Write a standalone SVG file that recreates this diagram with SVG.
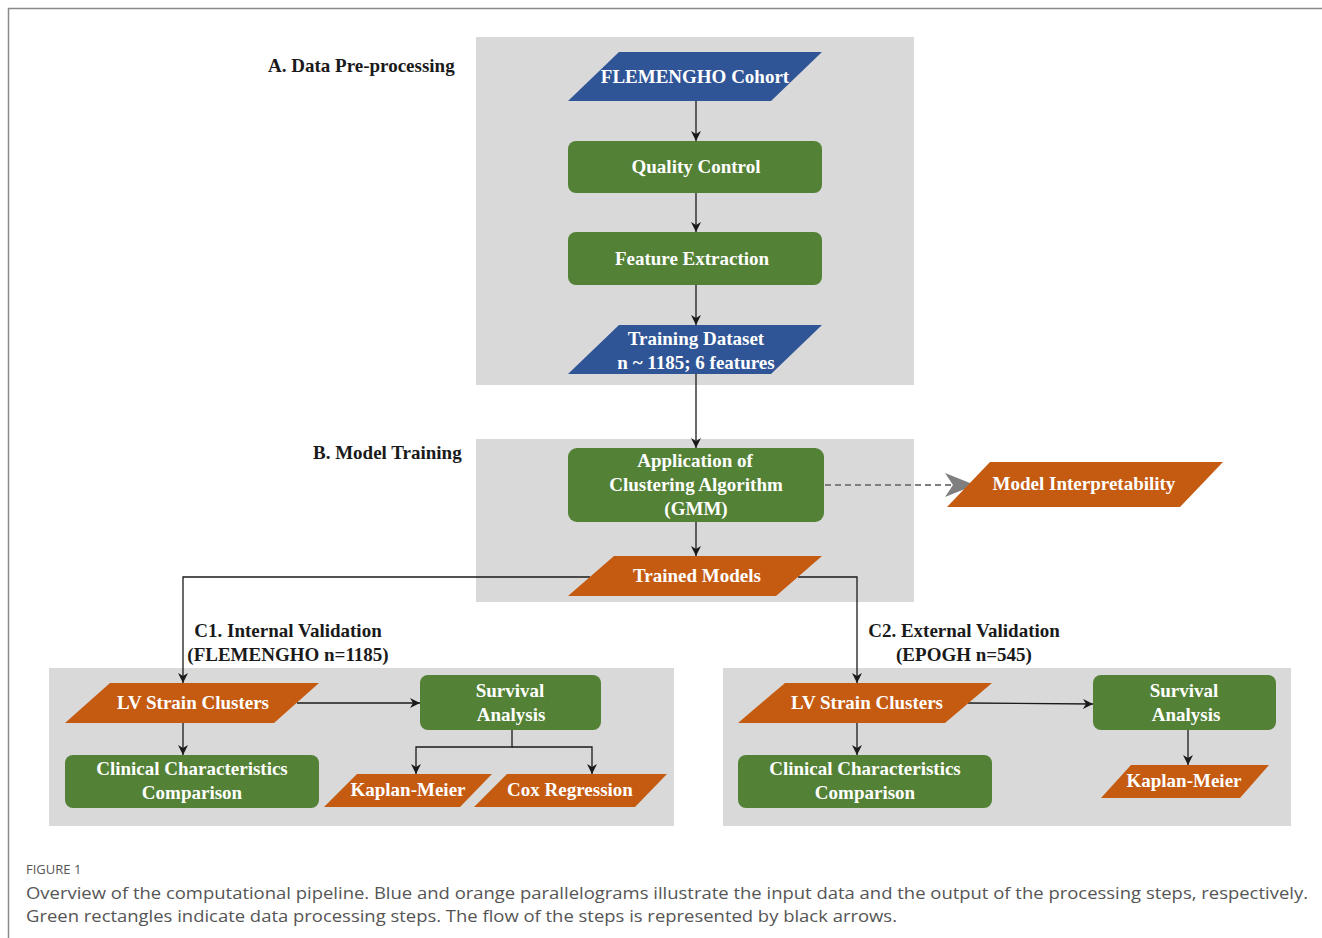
<svg xmlns="http://www.w3.org/2000/svg" width="1322" height="938" viewBox="0 0 1322 938">
<defs>
<style>
.panel{fill:#d9d9d9}
.blue{fill:#2f5597}
.green{fill:#538135}
.orange{fill:#c55a11}
.nt{font-family:"Liberation Serif","Times New Roman",serif;font-weight:bold;font-size:19px;fill:#ffffff;text-anchor:middle}
.lbl{font-family:"Liberation Serif","Times New Roman",serif;font-weight:bold;font-size:19px;fill:#1a1a1a}
.edge{fill:none;stroke:#1a1a1a;stroke-width:1.3}
.dash{fill:none;stroke:#7f7f7f;stroke-width:2;stroke-dasharray:6,4}
.cap{font-family:"Open Sans","Noto Sans",sans-serif;fill:#555555}
</style>
<marker id="ah" viewBox="0 0 10 10" refX="10" refY="5" markerWidth="10" markerHeight="10" markerUnits="userSpaceOnUse" orient="auto">
<path d="M0,0 L10,5 L0,10 L3,5 Z" fill="#1a1a1a"/>
</marker>
<marker id="ahg" viewBox="0 0 30 24" refX="30" refY="12" markerWidth="30" markerHeight="24" markerUnits="userSpaceOnUse" orient="auto">
<path d="M0,0 L30,12 L0,24 L8,12 Z" fill="#7f7f7f"/>
</marker>
</defs>
<rect x="0" y="0" width="1322" height="938" fill="#ffffff"/>
<path d="M8.5,938 V8.5 H1322" fill="none" stroke="#8a8a8a" stroke-width="1.5"/>

<g id="panels">
<rect class="panel" x="476" y="37" width="438" height="348"/>
<rect class="panel" x="476" y="439" width="438" height="163"/>
<rect class="panel" x="49" y="668" width="625" height="158"/>
<rect class="panel" x="723" y="668" width="568" height="158"/>
</g>

<g id="labels">
<text class="lbl" x="268" y="72">A. Data Pre-processing</text>
<text class="lbl" x="313" y="459">B. Model Training</text>
<text class="lbl" x="288" y="637" text-anchor="middle">C1. Internal Validation</text>
<text class="lbl" x="288" y="661" text-anchor="middle">(FLEMENGHO n=1185)</text>
<text class="lbl" x="964" y="637" text-anchor="middle">C2. External Validation</text>
<text class="lbl" x="964" y="661" text-anchor="middle">(EPOGH n=545)</text>
</g>

<g id="connectors">
<line class="edge" x1="696" y1="101" x2="696" y2="141" marker-end="url(#ah)"/>
<line class="edge" x1="696" y1="193" x2="696" y2="232" marker-end="url(#ah)"/>
<line class="edge" x1="696" y1="285" x2="696" y2="325" marker-end="url(#ah)"/>
<line class="edge" x1="696" y1="374" x2="696" y2="448" marker-end="url(#ah)"/>
<line class="edge" x1="696" y1="522" x2="696" y2="556" marker-end="url(#ah)"/>
<line class="dash" x1="825" y1="485" x2="975" y2="485" marker-end="url(#ahg)"/>
<polyline class="edge" points="590,577 183,577 183,683" marker-end="url(#ah)"/>
<polyline class="edge" points="798,577 857,577 857,683" marker-end="url(#ah)"/>
<line class="edge" x1="183" y1="723" x2="183" y2="755" marker-end="url(#ah)"/>
<line class="edge" x1="297" y1="703" x2="420" y2="703" marker-end="url(#ah)"/>
<polyline class="edge" points="512,730 512,747 416,747 416,774" marker-end="url(#ah)"/>
<polyline class="edge" points="512,747 592,747 592,774" marker-end="url(#ah)"/>
<line class="edge" x1="857" y1="723" x2="857" y2="755" marker-end="url(#ah)"/>
<line class="edge" x1="968" y1="703" x2="1093" y2="704" marker-end="url(#ah)"/>
<line class="edge" x1="1188" y1="730" x2="1188" y2="765" marker-end="url(#ah)"/>
</g>

<g id="flemengho-cohort">
<polygon class="blue" points="619,52 822,52 771,101 568,101"/>
<text class="nt" x="695" y="83">FLEMENGHO Cohort</text>
</g>
<g id="quality-control">
<rect class="green" x="568" y="141" width="254" height="52" rx="8"/>
<text class="nt" x="696" y="173">Quality Control</text>
</g>
<g id="feature-extraction">
<rect class="green" x="568" y="232" width="254" height="53" rx="8"/>
<text class="nt" x="692" y="265">Feature Extraction</text>
</g>
<g id="training-dataset">
<polygon class="blue" points="619,325 822,325 771,374 568,374"/>
<text class="nt" x="696" y="345">Training Dataset</text>
<text class="nt" x="696" y="369">n ~ 1185; 6 features</text>
</g>
<g id="clustering">
<rect class="green" x="568" y="448" width="256" height="74" rx="9"/>
<text class="nt" x="695" y="467">Application of</text>
<text class="nt" x="696" y="491">Clustering Algorithm</text>
<text class="nt" x="696" y="515">(GMM)</text>
</g>
<g id="model-interpretability">
<polygon class="orange" points="990,462 1223,462 1180,507 947,507"/>
<text class="nt" x="1084" y="490">Model Interpretability</text>
</g>
<g id="trained-models">
<polygon class="orange" points="614,556 822,556 776,596 568,596"/>
<text class="nt" x="697" y="582">Trained Models</text>
</g>

<g id="c1-lv-strain">
<polygon class="orange" points="110,683 319,683 274,723 65,723"/>
<text class="nt" x="193" y="709">LV Strain Clusters</text>
</g>
<g id="c1-survival">
<rect class="green" x="420" y="675" width="181" height="55" rx="8"/>
<text class="nt" x="510" y="697">Survival</text>
<text class="nt" x="511" y="721">Analysis</text>
</g>
<g id="c1-clinical">
<rect class="green" x="65" y="755" width="254" height="53" rx="8"/>
<text class="nt" x="192" y="775">Clinical Characteristics</text>
<text class="nt" x="192" y="799">Comparison</text>
</g>
<g id="c1-kaplan">
<polygon class="orange" points="357,774 492,774 460,807 324,807"/>
<text class="nt" x="408" y="796">Kaplan-Meier</text>
</g>
<g id="c1-cox">
<polygon class="orange" points="507,774 667,774 635,807 474,807"/>
<text class="nt" x="570" y="796">Cox Regression</text>
</g>

<g id="c2-lv-strain">
<polygon class="orange" points="785,683 992,683 945,723 738,723"/>
<text class="nt" x="867" y="709">LV Strain Clusters</text>
</g>
<g id="c2-survival">
<rect class="green" x="1093" y="675" width="183" height="55" rx="8"/>
<text class="nt" x="1184" y="697">Survival</text>
<text class="nt" x="1186" y="721">Analysis</text>
</g>
<g id="c2-clinical">
<rect class="green" x="738" y="755" width="254" height="53" rx="8"/>
<text class="nt" x="865" y="775">Clinical Characteristics</text>
<text class="nt" x="865" y="799">Comparison</text>
</g>
<g id="c2-kaplan">
<polygon class="orange" points="1131,765 1269,765 1240,798 1101,798"/>
<text class="nt" x="1184" y="787">Kaplan-Meier</text>
</g>

<g id="caption">
<text class="cap" x="26" y="874" font-size="13">FIGURE 1</text>
<text class="cap" x="26" y="899" font-size="17" textLength="1282" lengthAdjust="spacingAndGlyphs">Overview of the computational pipeline. Blue and orange parallelograms illustrate the input data and the output of the processing steps, respectively.</text>
<text class="cap" x="26" y="922" font-size="17" textLength="871" lengthAdjust="spacingAndGlyphs">Green rectangles indicate data processing steps. The flow of the steps is represented by black arrows.</text>
</g>
</svg>
